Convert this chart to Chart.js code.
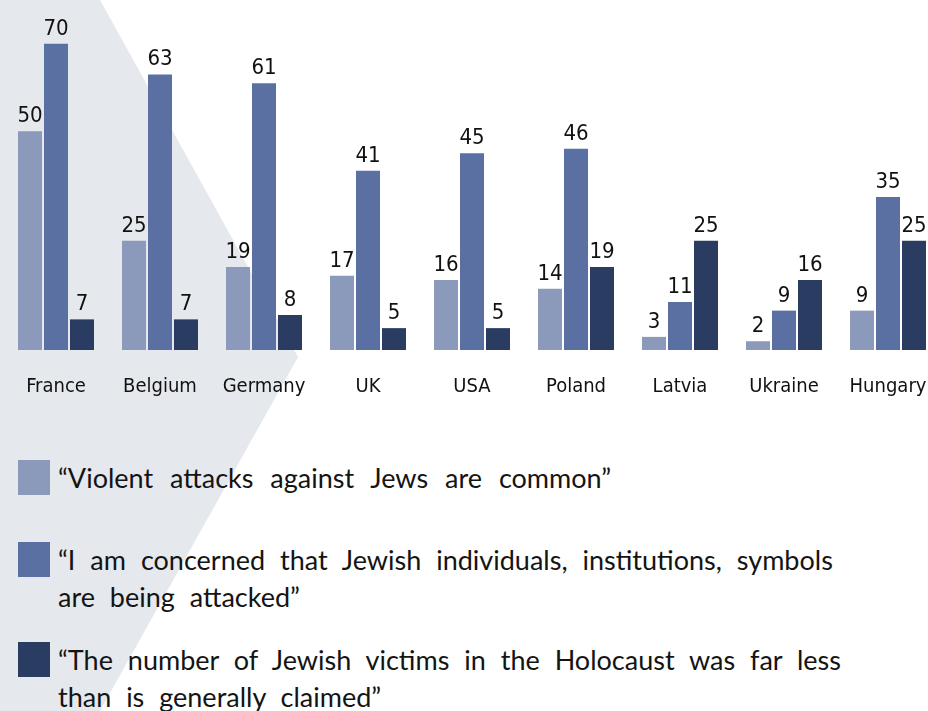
<!DOCTYPE html>
<html>
<head>
<meta charset="utf-8">
<script src="https://cdn.jsdelivr.net/npm/chart.js@4/dist/chart.umd.min.js"></script>
<style>
  html, body { margin: 0; padding: 0; }
  body {
    width: 928px; height: 711px; overflow: hidden;
    position: relative; background: #ffffff;
  }
  /* grey chevron behind everything */
  .chevron {
    position: absolute; left: 0; top: 0; width: 928px; height: 711px;
    background: #e5e8ec;
    clip-path: polygon(0 0, 100px 0, 298px 357px, 100px 711px, 0 711px);
  }
  #chart-wrap { position: absolute; left: 4px; top: 0; width: 936px; height: 399px; }
  .legend-item { position: absolute; left: 0; }
  .legend-item .swatch { position: absolute; left: 18px; top: 0; width: 32px; height: 35px; }
  .legend-item .label {
    position: absolute; left: 58px; top: -1px; white-space: nowrap;
    font-family: Lato, 'Open Sans', sans-serif; font-size: 27px; line-height: 37px;
    color: #141414; word-spacing: 8px;
  }
  .legend-item.single .label { word-spacing: 10px; }
</style>
</head>
<body>
<div class="chevron"></div>
<div id="chart-wrap"><canvas id="bars" width="936" height="399"></canvas></div>
<div id="legend"></div>

<script>
// Countries and the three survey statements (% agreeing)
const countries = ['France', 'Belgium', 'Germany', 'UK', 'USA', 'Poland', 'Latvia', 'Ukraine', 'Hungary'];
const violentCommon = [50, 25, 19, 17, 16, 14, 3, 2, 9];
const concernedAttacked = [70, 63, 61, 41, 45, 46, 11, 9, 35];
const victimsFewer = [7, 7, 8, 5, 5, 19, 25, 16, 25];

const seriesLabels = [
  ['“Violent attacks against Jews are common”'],
  ['“I am concerned that Jewish individuals, institutions, symbols', 'are being attacked”'],
  ['“The number of Jewish victims in the Holocaust was far less', 'than is generally claimed”']
];
const seriesColors = ['#8b9aba', '#5a70a2', '#2b3c62'];

const narrowFont = "'DejaVu Sans Condensed', 'Liberation Sans Narrow', sans-serif";

// numbers above every bar
const barValues = {
  id: 'barValues',
  afterDatasetsDraw(chart) {
    const ctx = chart.ctx;
    ctx.save();
    ctx.font = '22px ' + narrowFont;
    ctx.fillStyle = '#111111';
    ctx.textAlign = 'center';
    ctx.textBaseline = 'alphabetic';
    chart.data.datasets.forEach((ds, i) => {
      chart.getDatasetMeta(i).data.forEach((bar, j) => {
        ctx.fillText(String(ds.data[j]), bar.x, bar.y - 9);
      });
    });
    ctx.restore();
  }
};

const datasets = [violentCommon, concernedAttacked, victimsFewer].map((data, i) => ({
  label: seriesLabels[i].join(' '),
  data,
  backgroundColor: seriesColors[i],
  borderWidth: 0,
  categoryPercentage: 0.75,
  barPercentage: 0.923
}));

new Chart(document.getElementById('bars'), {
  type: 'bar',
  data: { labels: countries, datasets },
  options: {
    responsive: false,
    animation: false,
    layout: { padding: 0 },
    plugins: { legend: { display: false }, tooltip: { enabled: false } },
    scales: {
      x: {
        // invisible tick marks give the gap under the bars
        grid: {
          display: true,
          drawOnChartArea: false,
          drawTicks: true,
          tickLength: 25,
          color: 'rgba(0,0,0,0)'
        },
        border: { display: false },
        ticks: {
          color: '#111111',
          padding: 0,
          autoSkip: false,
          maxRotation: 0,
          minRotation: 0,
          font: { family: narrowFont, size: 20 }
        }
      },
      y: {
        display: false,
        min: 0,
        max: 80
      }
    }
  },
  plugins: [barValues]
});

// legend below the chart, built from the same labels and colours
const legendTops = [460, 542, 642];
const legend = document.getElementById('legend');
seriesLabels.forEach((lines, i) => {
  const item = document.createElement('div');
  item.className = 'legend-item' + (lines.length === 1 ? ' single' : '');
  item.style.top = legendTops[i] + 'px';
  const sw = document.createElement('div');
  sw.className = 'swatch';
  sw.style.background = seriesColors[i];
  const txt = document.createElement('div');
  txt.className = 'label';
  txt.innerHTML = lines.join('<br>');
  item.appendChild(sw);
  item.appendChild(txt);
  legend.appendChild(item);
});
</script>
</body>
</html>
